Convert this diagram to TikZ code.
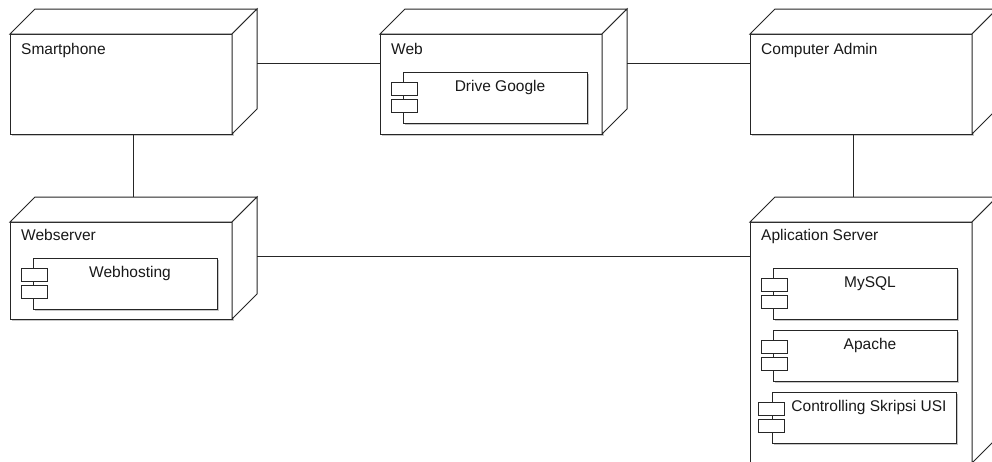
\documentclass[tikz,border=0pt]{standalone}
\usepackage{fontspec}
\setmainfont{Liberation Sans}
\usetikzlibrary{calc,shadows}
\newcommand\boxfaces[1]{%
  \draw[edge, fill=white] (#1.north west) -- ++(25,-25) -- ($(#1.north east)+(25,-25)$) -- (#1.north east) -- cycle;
  \draw[edge, fill=white] (#1.north east) -- ++(25,-25) -- ($(#1.south east)+(25,-25)$) -- (#1.south east) -- cycle;
}
\begin{document}
\begin{tikzpicture}[x=1pt,y=-1pt,
  edge/.style={draw=black!85, line width=1pt},
  shad/.style={general shadow={fill=black!22, shadow xshift=1.5pt, shadow yshift=-1.5pt}},
  front/.style={draw=black!85, line width=1pt, fill=white, rectangle, anchor=north west,
    minimum width=222pt, inner sep=0pt, outer sep=0pt, shad},
  comp/.style={draw=black!85, line width=1pt, fill=white, rectangle, anchor=north west,
    minimum width=184pt, minimum height=51pt, inner sep=0pt, outer sep=0pt, shad},
  tab/.style={draw=black!85, line width=1pt, fill=white, rectangle, anchor=north west,
    minimum width=26pt, minimum height=13pt, inner sep=0pt, outer sep=0pt},
  lbl/.style={anchor=base west, inner sep=0pt, text=black!90, font=\fontsize{15.5}{18}\selectfont},
  clbl/.style={anchor=base, inner sep=0pt, text=black!90, font=\fontsize{15.5}{18}\selectfont},
]
\useasboundingbox (0,0) rectangle (992,461);
\clip (0,0) rectangle (992,461);
\fill[white] (0,0) rectangle (992,461);

% device nodes (front faces)
\node[front, minimum height=100pt] (smart) at (10,34) {};
\node[front, minimum height=100pt] (web) at (380,34) {};
\node[front, minimum height=100pt] (admin) at (750,34) {};
\node[front, minimum height=97pt] (wserver) at (10,222) {};
\node[front, minimum height=241pt] (app) at (750,222) {};

\boxfaces{smart}
\boxfaces{web}
\boxfaces{admin}
\boxfaces{wserver}
\boxfaces{app}

% connectors
\draw[edge] ($(smart.north east)+(25,29)$) coordinate (c1a) -- ($(web.north west)+(0,29)$) coordinate (c1b);
\draw[edge] ($(web.north east)+(25,29)$) coordinate (c2a) -- ($(admin.north west)+(0,29)$) coordinate (c2b);
\draw[edge] ($(smart.south west)+(123.5,0)$) coordinate (c3a) -- ($(wserver.north west)+(123.5,-25)$) coordinate (c3b);
\draw[edge] ($(admin.south west)+(103,0)$) coordinate (c4a) -- ($(app.north west)+(103,-25)$) coordinate (c4b);
\draw[edge] ($(wserver.north east)+(25,34)$) coordinate (c5a) -- ($(app.north west)+(0,34)$) coordinate (c5b);

% node labels
\node[lbl] (smartlbl) at (21,54) {Smartphone};
\node[lbl] (weblbl) at (391,54) {Web};
\node[lbl] (adminlbl) at (761,54) {Computer Admin};
\node[lbl] (wserverlbl) at (21,240) {Webserver};
\node[lbl] (applbl) at (761,240) {Aplication Server};

% components
\node[comp] (drive) at (403,72) {};
\node[tab] (drivet1) at (391,82) {};
\node[tab] (drivet2) at (391,99) {};
\node[clbl] (drivelbl) at ($(drive.north)+(5,19)$) {Drive Google};

\node[comp] (whost) at (33,258) {};
\node[tab] (whostt1) at (21,268) {};
\node[tab] (whostt2) at (21,285) {};
\node[clbl] (whostlbl) at ($(whost.north)+(5,19)$) {Webhosting};

\node[comp] (mysql) at (773,268) {};
\node[tab] (mysqlt1) at (761,278) {};
\node[tab] (mysqlt2) at (761,295) {};
\node[clbl] (mysqllbl) at ($(mysql.north)+(5,19)$) {MySQL};

\node[comp] (apache) at (773,330) {};
\node[tab] (apachet1) at (761,340) {};
\node[tab] (apachet2) at (761,357) {};
\node[clbl] (apachelbl) at ($(apache.north)+(5,19)$) {Apache};

\node[comp] (ctrl) at (772,392) {};
\node[tab] (ctrlt1) at (758,402) {};
\node[tab] (ctrlt2) at (758,419) {};
\node[clbl] (ctrllbl) at ($(ctrl.north)+(5,19)$) {Controlling Skripsi USI};
\end{tikzpicture}
\end{document}
